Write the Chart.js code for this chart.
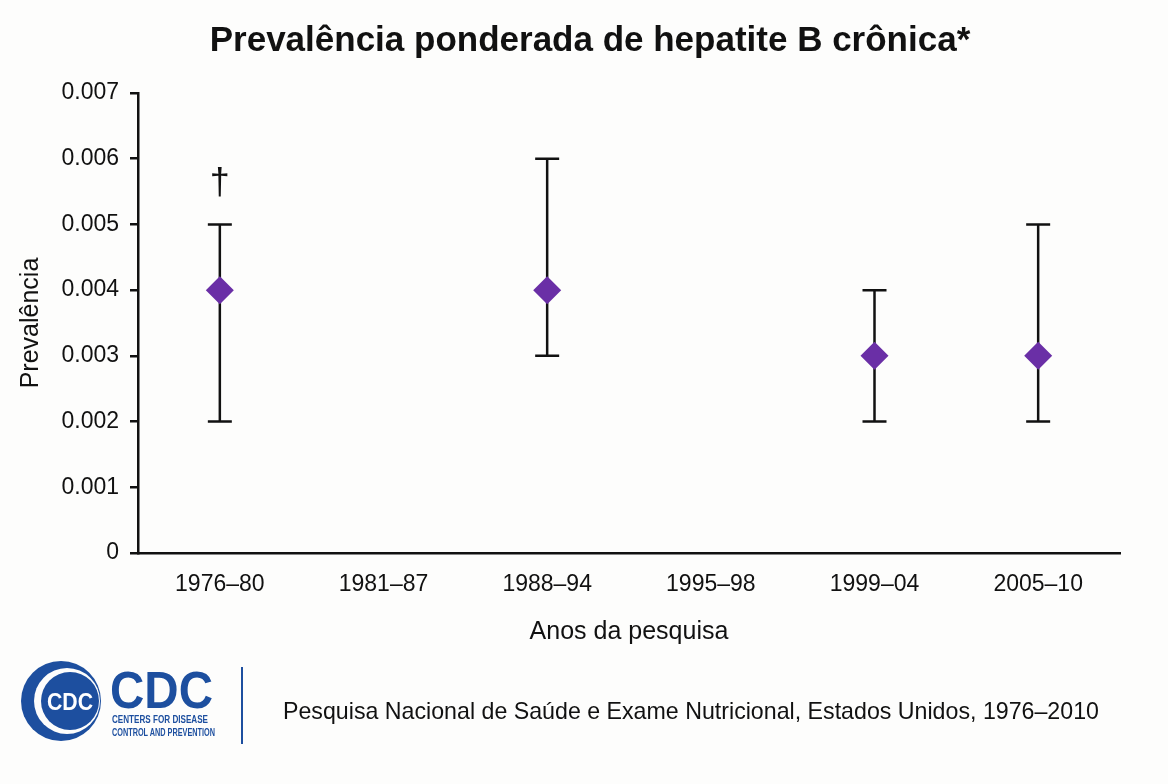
<!DOCTYPE html>
<html>
<head>
<meta charset="utf-8">
<script src="https://cdn.jsdelivr.net/npm/chart.js@4.4.1/dist/chart.umd.min.js"></script>
<style>
  html, body { margin: 0; padding: 0; background: #fdfdfc; }
  #wrap { position: relative; width: 1168px; height: 784px; }
  #wrap canvas { position: absolute; left: 0; top: 0; }
  #title {
    position: absolute; left: 0; width: 1180px; top: 19px;
    text-align: center; font: bold 35px "Liberation Sans", Arial, sans-serif; color: #111;
  }
  #source {
    position: absolute; left: 283px; top: 698px;
    font: 23.2px "Liberation Sans", Arial, sans-serif; color: #111; white-space: nowrap;
  }
  #logo { position: absolute; left: 0; top: 650px; }
</style>
</head>
<body>
<div id="wrap">
  <canvas id="chart"></canvas>
  <div id="title">Prevalência ponderada de hepatite B crônica*</div>
  <svg id="logo" width="260" height="110" viewBox="0 650 260 110">
    <circle cx="61" cy="701" r="40" fill="#1d4f9f"/>
    <circle cx="67" cy="701" r="33" fill="#fdfdfc"/>
    <circle cx="70" cy="701" r="29" fill="#1d4f9f"/>
    <text x="70" y="710" text-anchor="middle" fill="#fff" font-family="Liberation Sans, Arial" font-weight="bold" font-size="24" textLength="46" lengthAdjust="spacingAndGlyphs">CDC</text>
    <text x="110" y="708" fill="#1d4f9f" font-family="Liberation Sans, Arial" font-weight="bold" font-size="52" textLength="103" lengthAdjust="spacingAndGlyphs">CDC</text>
    <text x="112" y="723" fill="#1d4f9f" font-family="Liberation Sans, Arial" font-weight="bold" font-size="10.5" textLength="96" lengthAdjust="spacingAndGlyphs">CENTERS FOR DISEASE</text>
    <text x="112" y="736" fill="#1d4f9f" font-family="Liberation Sans, Arial" font-weight="bold" font-size="10.5" textLength="103" lengthAdjust="spacingAndGlyphs">CONTROL AND PREVENTION</text>
    <line x1="242" y1="667" x2="242" y2="744" stroke="#1d4f9f" stroke-width="2"/>
  </svg>
  <div id="source">Pesquisa Nacional de Saúde e Exame Nutricional, Estados Unidos, 1976–2010</div>
</div>
<script>
// survey periods and weighted prevalence (null = no estimate)
var periods = ['1976–80', '1981–87', '1988–94', '1995–98', '1999–04', '2005–10'];
var prevalence = [0.004, null, 0.004, null, 0.003, 0.003];
var lowerCI = [0.002, null, 0.003, null, 0.002, 0.002];
var upperCI = [0.005, null, 0.006, null, 0.004, 0.005];
var notes = ['†', '', '', '', '', ''];
var yTicks = [0, 0.001, 0.002, 0.003, 0.004, 0.005, 0.006, 0.007];

var font = '"Liberation Sans", Arial, sans-serif';

// error bars and footnote marks, drawn through the chart's own scales
var errorBars = {
    id: 'errorBars',
    beforeDatasetsDraw: function (chart) {
        var ctx = chart.ctx;
        var xs = chart.scales.x, ys = chart.scales.y;
        ctx.save();
        ctx.strokeStyle = '#111';
        ctx.lineWidth = 2.5;
        periods.forEach(function (p, i) {
            if (lowerCI[i] == null) return;
            var x = xs.getPixelForValue(i);
            var yl = ys.getPixelForValue(lowerCI[i]);
            var yh = ys.getPixelForValue(upperCI[i]);
            ctx.beginPath();
            ctx.moveTo(x, yl); ctx.lineTo(x, yh);
            ctx.moveTo(x - 12, yl); ctx.lineTo(x + 12, yl);
            ctx.moveTo(x - 12, yh); ctx.lineTo(x + 12, yh);
            ctx.stroke();
            if (notes[i]) {
                ctx.fillStyle = '#111';
                ctx.font = '36px ' + font;
                ctx.textAlign = 'center';
                ctx.textBaseline = 'middle';
                ctx.fillText(notes[i], x, yh - 40);
            }
        });
        ctx.restore();
    }
};

var options = {
    type: 'line',
    data: {
        labels: periods,
        datasets: [
            {
                label: 'Prevalência',
                data: prevalence,
                showLine: false,
                pointStyle: 'rectRot',
                pointRadius: 14,
                backgroundColor: '#6a2fa6',
                borderColor: '#6a2fa6',
                borderWidth: 0
            }
        ]
    },
    options: {
        responsive: true,
        maintainAspectRatio: false,
        animation: false,
        layout: {
            padding: { top: 93, right: 48, bottom: 131, left: 0 }
        },
        plugins: {
            legend: { display: false },
            tooltip: { enabled: false }
        },
        scales: {
            x: {
                offset: true,
                grid: { display: false, drawTicks: false },
                border: { color: '#111', width: 2.5 },
                ticks: { color: '#111', padding: 18, font: { family: font, size: 23 } },
                title: {
                    display: true, text: 'Anos da pesquisa', color: '#111',
                    font: { family: font, size: 25 }, padding: { top: 0, bottom: 6 }
                },
                afterFit: function (s) { s.height = 100; }
            },
            y: {
                min: 0,
                max: 0.007,
                grid: { drawOnChartArea: false, drawTicks: true, tickLength: 8, color: '#111', lineWidth: 2.5 },
                border: { color: '#111', width: 2.5 },
                afterBuildTicks: function (s) {
                    s.ticks = yTicks.map(function (v) { return { value: v }; });
                },
                ticks: {
                    color: '#111', padding: 11, font: { family: font, size: 23 },
                    callback: function (v) { return v === 0 ? '0' : v.toFixed(3); }
                },
                title: {
                    display: true, text: 'Prevalência', color: '#111',
                    font: { family: font, size: 25 }, padding: { top: 16, bottom: 0 }
                },
                afterFit: function (s) { s.width = 138; }
            }
        }
    },
    plugins: [errorBars]
};

var ctx = document.getElementById('chart').getContext('2d');
var theChart = new Chart(ctx, options);
</script>
</body>
</html>
